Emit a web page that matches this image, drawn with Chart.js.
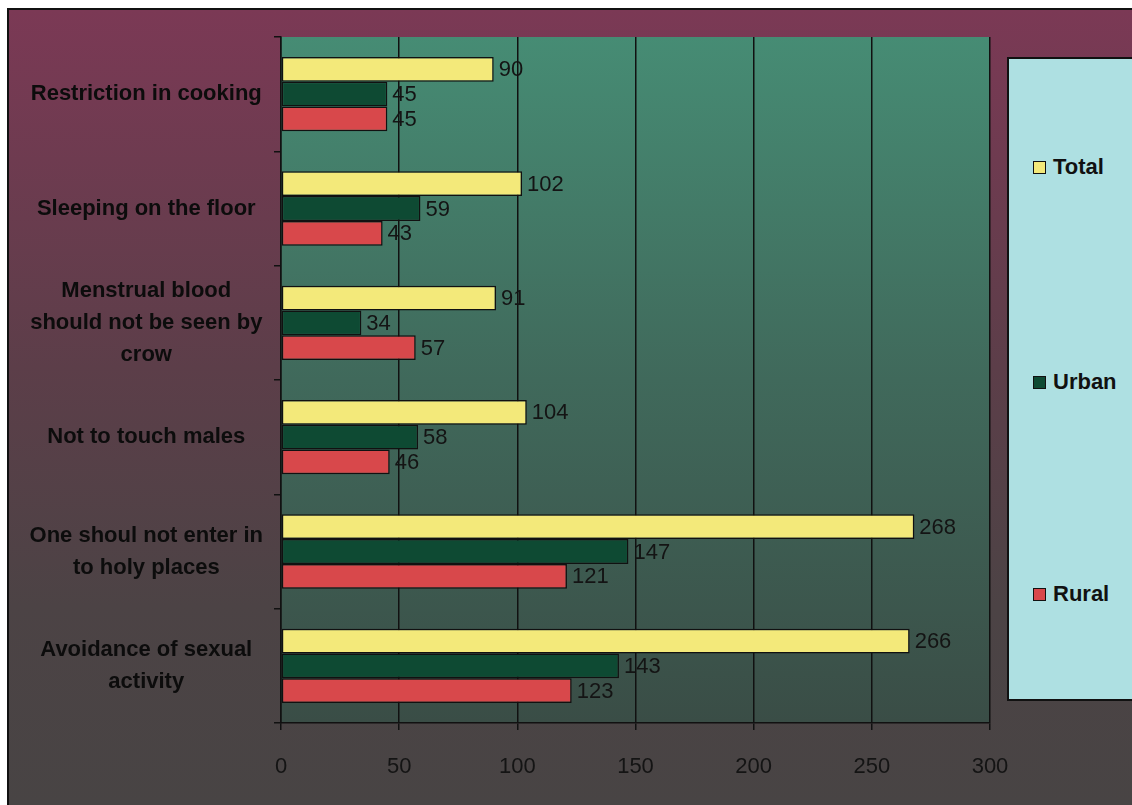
<!DOCTYPE html>
<html>
<head>
<meta charset="utf-8">
<script src="https://cdn.jsdelivr.net/npm/chart.js@4.4.1/dist/chart.umd.min.js"></script>
<style>
  html, body { margin: 0; padding: 0; background: #ffffff; overflow: hidden; }
  #wrap { position: relative; width: 1132px; height: 805px; }
  #chart { position: absolute; left: 0; top: 0; }
  #legend {
    position: absolute; left: 1007px; top: 57px; width: 140px; height: 644px;
    box-sizing: border-box; border: 2px solid #111; background: #aee0e2;
  }
  .item {
    position: absolute; left: 24px; height: 24px; display: flex; align-items: center;
    font: bold 22px "Liberation Sans", Arial, sans-serif; color: #111; white-space: nowrap;
  }
  .swatch {
    width: 11px; height: 11px; border: 1.5px solid #111; margin-right: 7px; flex: none;
  }
</style>
</head>
<body>
<div id="wrap">
  <canvas id="chart" width="1132" height="805"></canvas>
  <div id="legend"></div>
</div>
<script>
// Menstrual restrictions reported, by setting
const categories = [
  ['Restriction in cooking'],
  ['Sleeping on the floor'],
  ['Menstrual blood', 'should not be seen by', 'crow'],
  ['Not to touch males'],
  ['One shoul not enter in', 'to holy places'],
  ['Avoidance of sexual', 'activity']
];
const totalValues = [90, 102, 91, 104, 268, 266];
const urbanValues = [45, 59, 34, 58, 147, 143];
const ruralValues = [45, 43, 57, 46, 121, 123];
const xTicks = [0, 50, 100, 150, 200, 250, 300];

const seriesNames = ['Total', 'Urban', 'Rural'];
const seriesColors = ['#f3e97a', '#0e4a33', '#d8484b'];
const legendCenters = [108, 323, 535];

// Page and plot backgrounds
const backdrop = {
  id: 'backdrop',
  beforeDraw(chart) {
    const { ctx, chartArea: a } = chart;
    ctx.save();
    const outer = ctx.createLinearGradient(0, 10, 0, 805);
    outer.addColorStop(0, '#7b3955');
    outer.addColorStop(0.45, '#5c3e49');
    outer.addColorStop(0.75, '#4c4345');
    outer.addColorStop(1, '#484444');
    ctx.fillStyle = outer;
    ctx.fillRect(8, 9, 1132, 805);
    ctx.strokeStyle = '#111';
    ctx.lineWidth = 2;
    ctx.beginPath();
    ctx.moveTo(8, 805); ctx.lineTo(8, 9); ctx.lineTo(1132, 9);
    ctx.stroke();

    const plot = ctx.createLinearGradient(0, a.top, 0, a.bottom);
    plot.addColorStop(0, '#468c74');
    plot.addColorStop(0.5, '#40695b');
    plot.addColorStop(1, '#3a4d46');
    ctx.fillStyle = plot;
    ctx.fillRect(a.left, a.top, a.right - a.left, a.bottom - a.top);
    ctx.restore();
  }
};

// Value labels at the end of each bar
const valueLabels = {
  id: 'valueLabels',
  afterDatasetsDraw(chart) {
    const { ctx } = chart;
    ctx.save();
    ctx.font = '22px "Liberation Sans", Arial, sans-serif';
    ctx.fillStyle = '#141414';
    ctx.textAlign = 'left';
    ctx.textBaseline = 'middle';
    chart.data.datasets.forEach((ds, di) => {
      const meta = chart.getDatasetMeta(di);
      meta.data.forEach((bar, i) => {
        ctx.fillText(String(ds.data[i]), bar.x + 5, bar.y + 1);
      });
    });
    ctx.restore();
  }
};

const chart = new Chart(document.getElementById('chart'), {
  type: 'bar',
  data: {
    labels: categories,
    datasets: [
      { label: seriesNames[0], data: totalValues, backgroundColor: seriesColors[0] },
      { label: seriesNames[1], data: urbanValues, backgroundColor: seriesColors[1] },
      { label: seriesNames[2], data: ruralValues, backgroundColor: seriesColors[2] }
    ]
  },
  options: {
    indexAxis: 'y',
    responsive: false,
    animation: false,
    devicePixelRatio: 1,
    layout: { padding: { left: 0, top: 37, right: 142, bottom: 0 } },
    datasets: {
      bar: {
        barPercentage: 1,
        categoryPercentage: 0.65,
        borderColor: '#111',
        borderWidth: 1.5,
        borderSkipped: false
      }
    },
    plugins: {
      legend: { display: false },
      tooltip: { enabled: false }
    },
    scales: {
      x: {
        min: 0, max: 300,
        afterFit(scale) { scale.height = 82; },
        afterBuildTicks(scale) { scale.ticks = xTicks.map(v => ({ value: v })); },
        grid: { color: '#111', lineWidth: 1.5, tickLength: 7, drawOnChartArea: true },
        border: { display: true, color: '#111', width: 1.5 },
        ticks: {
          padding: 24,
          color: '#141414',
          font: { family: '"Liberation Sans", Arial, sans-serif', size: 22 }
        }
      },
      y: {
        afterFit(scale) {
          scale.width = 281;
          scale.paddingTop = 0;
          scale.paddingBottom = 0;
        },
        grid: { color: '#111', lineWidth: 1.5, tickLength: 7, drawOnChartArea: false, offset: true },
        border: { display: true, color: '#111', width: 1.5 },
        ticks: {
          padding: 11,
          crossAlign: 'center',
          color: '#0c0c0c',
          font: { family: '"Liberation Sans", Arial, sans-serif', size: 22, weight: 'bold', lineHeight: 1.45 }
        }
      }
    }
  },
  plugins: [backdrop, valueLabels]
});

// Legend built from the chart's own datasets
const legendEl = document.getElementById('legend');
chart.data.datasets.forEach((ds, i) => {
  const item = document.createElement('div');
  item.className = 'item';
  item.style.top = (legendCenters[i] - 12) + 'px';
  const sw = document.createElement('span');
  sw.className = 'swatch';
  sw.style.background = ds.backgroundColor;
  const tx = document.createElement('span');
  tx.textContent = ds.label;
  item.appendChild(sw);
  item.appendChild(tx);
  legendEl.appendChild(item);
});
</script>
</body>
</html>
